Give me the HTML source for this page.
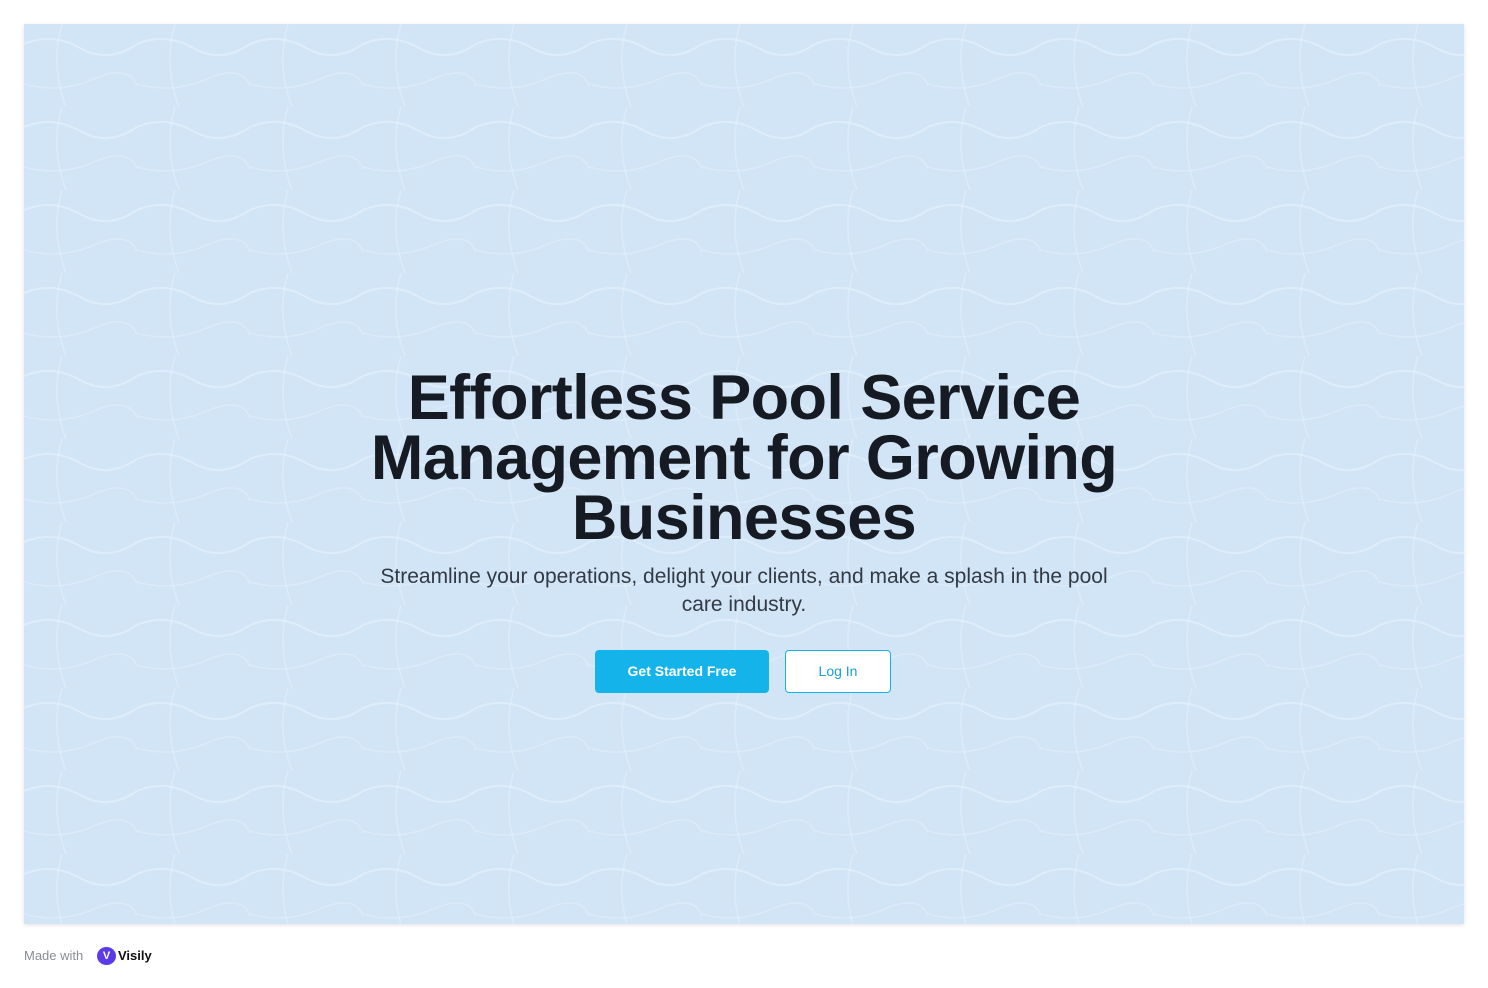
<!DOCTYPE html>
<html><head><meta charset="utf-8"><style>
*{margin:0;padding:0;box-sizing:border-box}
body{width:1488px;height:988px;background:#fff;font-family:"Liberation Sans",sans-serif;position:relative;overflow:hidden}
.card{position:absolute;left:24px;top:24px;width:1440px;height:900px;background:#d2e5f6;box-shadow:0 1px 4px rgba(0,0,0,.12);overflow:hidden}
.card svg{position:absolute;left:0;top:0}
h1{position:absolute;left:0;width:1488px;top:368px;text-align:center;font-size:63px;line-height:60px;font-weight:700;color:#161a22;letter-spacing:-0.6px}
p{position:absolute;left:0;width:1488px;top:563px;text-align:center;font-size:21px;line-height:28px;color:#333a44}
.b1{position:absolute;left:595px;top:650px;width:174px;height:43px;background:#14b4ea;border-radius:4px;color:#fff;font-size:14px;font-weight:700;text-align:center;line-height:43px}
.b2{position:absolute;left:785px;top:650px;width:106px;height:43px;background:#fff;border:1px solid #14b4ea;border-radius:4px;color:#1a9fd8;font-size:14px;text-align:center;line-height:41px}
.ft{position:absolute;left:24px;top:948px;font-size:13px;color:#8a8d99}
.logo{position:absolute;left:97px;top:947px;width:19px;height:18px;background:#5b3be8;border-radius:50%;color:#fff;font-size:11px;font-weight:700;text-align:center;line-height:18px}
.vis{position:absolute;left:118px;top:948px;font-size:13px;font-weight:700;color:#111}
</style></head><body>
<div class="card">
<svg width="1440" height="900" viewBox="0 0 1440 900">
<defs><pattern id="w" width="113" height="83" patternUnits="userSpaceOnUse">
<path d="M0 20 Q28 8 56 24 T113 20" stroke="#eef6fd" stroke-width="2" fill="none" opacity=".45"/>
<path d="M38 0 Q26 40 42 83" stroke="#eef6fd" stroke-width="1.5" fill="none" opacity=".4"/>
<path d="M0 60 Q35 70 70 55 T113 62" stroke="#eaf3fc" stroke-width="1.5" fill="none" opacity=".4"/>
</pattern></defs>
<rect width="1440" height="900" fill="url(#w)"/>
</svg>
</div>
<h1>Effortless Pool Service<br>Management for Growing<br>Businesses</h1>
<p>Streamline your operations, delight your clients, and make a splash in the pool<br>care industry.</p>
<div class="b1">Get Started Free</div>
<div class="b2">Log In</div>
<div class="ft">Made with</div>
<div class="logo">V</div>
<div class="vis">Visily</div>
</body></html>
